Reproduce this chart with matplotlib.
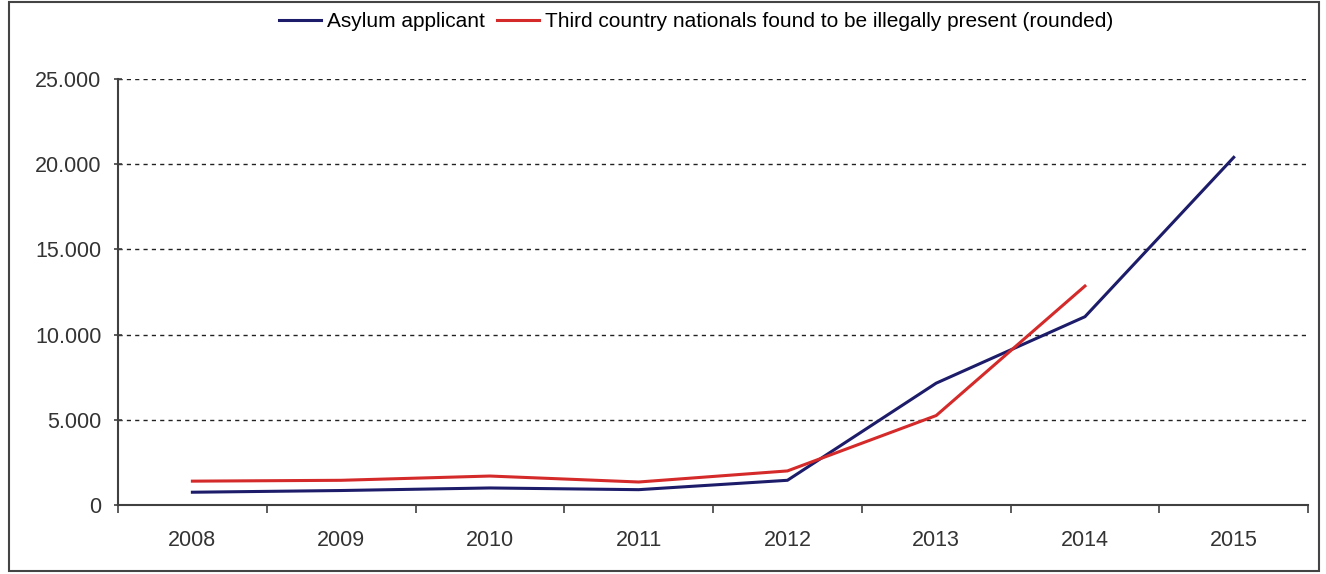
import matplotlib
matplotlib.use("Agg")
import matplotlib.pyplot as plt
import matplotlib.patches as patches
from matplotlib.ticker import FuncFormatter, FixedLocator

plt.rcParams['font.family'] = ['Liberation Sans', 'DejaVu Sans']

# data
years = ["2008", "2009", "2010", "2011", "2012", "2013", "2014", "2015"]
asylum = [750, 850, 1000, 900, 1450, 7150, 11050, 20400]
illegal = [1400, 1450, 1700, 1350, 2000, 5250, 12850]
yticks = [0, 5000, 10000, 15000, 20000, 25000]

fig = plt.figure(figsize=(13.26, 5.74), dpi=100)
ax = fig.add_axes([0.089, 0.1202, 0.8975, 0.7422])

x = list(range(len(years)))
ax.plot(x, asylum, color='#1c1c6a', lw=2.2, label='Asylum applicant')
ax.plot(x[:len(illegal)], illegal, color='#d42a2a', lw=2.2,
        label='Third country nationals found to be illegally present (rounded)')

ax.set_xlim(-0.5, len(years) - 0.5)
ax.set_ylim(0, 25000)

# category labels centred, tick marks between categories
ax.set_xticks(x)
ax.set_xticklabels(years)
ax.tick_params(axis='x', which='major', length=0, pad=18)
ax.xaxis.set_minor_locator(FixedLocator([i - 0.5 for i in range(len(years) + 1)]))
ax.tick_params(axis='x', which='minor', length=6, width=1.2, color='#404040', direction='out')

ax.set_yticks(yticks)
ax.yaxis.set_major_formatter(FuncFormatter(lambda v, p: f"{int(v):,}".replace(",", ".")))
ax.tick_params(axis='y', length=6, width=1.2, color='#404040', direction='inout', pad=9)
ax.tick_params(labelsize=15.5, labelcolor='#333333')

for v in yticks[1:]:
    ax.axhline(v, color='#222222', lw=1.0, ls=(0, (3, 3)), zorder=0)

for s in ['top', 'right']:
    ax.spines[s].set_visible(False)
for s in ['left', 'bottom']:
    ax.spines[s].set_color('#404040')
    ax.spines[s].set_linewidth(1.5)

fig.legend(loc='center', bbox_to_anchor=(0.525, 0.962), ncol=2, frameon=False,
           fontsize=15, handlelength=2.0, handletextpad=0.3, columnspacing=0.6)

# outer chart border
fig.patches.append(patches.Rectangle((0.007, 0.006), 0.988, 0.99, transform=fig.transFigure,
                                     fill=False, edgecolor='#444444', lw=1.5))

fig.savefig("out.png", dpi=100)
